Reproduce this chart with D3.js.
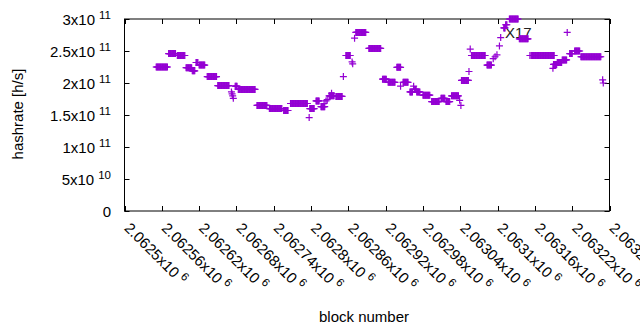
<!DOCTYPE html>
<html>
<head>
<meta charset="utf-8">
<script src="https://cdn.jsdelivr.net/npm/d3@7"></script>
<style>
  body { margin: 0; background: #fff; }
  text { font-family: "Liberation Sans", Arial, sans-serif; fill: #000; }
</style>
</head>
<body>
<div id="chart"></div>
<script>
/**
 * CONSTANTS AND GLOBALS
 * */
const width = 640,
  height = 330,
  margin = { top: 19, bottom: 119, left: 124.5, right: 30.5 };

// runs of blocks that share the same hashrate estimate (start block, end block, value)
const runStart = [
  2062551, 2062571, 2062585, 2062599, 2062609, 2062615, 2062620, 2062633, 2062650,
  2062672, 2062673, 2062674, 2062675, 2062678, 2062683, 2062713, 2062733, 2062756,
  2062767, 2062797, 2062798, 2062808, 2062816, 2062821, 2062824, 2062826, 2062829,
  2062833, 2062840, 2062852, 2062856, 2062866, 2062867, 2062870, 2062872, 2062893,
  2062915, 2062924, 2062938, 2062944, 2062948, 2062959, 2062965, 2062966, 2062970,
  2062980, 2062994, 2063009, 2063017, 2063026, 2063039, 2063041, 2063042, 2063054,
  2063056, 2063058, 2063083, 2063093, 2063096, 2063099, 2063103, 2063105, 2063110,
  2063113, 2063119, 2063135, 2063152, 2063154, 2063189, 2063190, 2063196, 2063204,
  2063212, 2063216, 2063224, 2063234, 2063269, 2063270
];
const runEnd = [
  2062569, 2062582, 2062597, 2062608, 2062613, 2062618, 2062629, 2062648, 2062668,
  2062672, 2062673, 2062674, 2062675, 2062681, 2062710, 2062729, 2062753, 2062763,
  2062794, 2062797, 2062805, 2062813, 2062822, 2062821, 2062824, 2062826, 2062837,
  2062833, 2062850, 2062852, 2062863, 2062866, 2062867, 2062870, 2062888, 2062912,
  2062921, 2062935, 2062944, 2062944, 2062956, 2062963, 2062965, 2062969, 2062975,
  2062991, 2063006, 2063015, 2063023, 2063037, 2063039, 2063041, 2063053, 2063054,
  2063056, 2063080, 2063090, 2063093, 2063096, 2063099, 2063103, 2063105, 2063112,
  2063115, 2063133, 2063149, 2063152, 2063191, 2063189, 2063195, 2063203, 2063211,
  2063212, 2063220, 2063232, 2063266, 2063269, 2063270
];
const runHashrate = [
  2.25e11, 2.46e11, 2.43e11, 2.24e11, 2.19e11, 2.32e11, 2.28e11, 2.10e11, 1.96e11,
  1.86e11, 1.83e11, 1.80e11, 1.76e11, 1.95e11, 1.90e11, 1.65e11, 1.60e11, 1.57e11,
  1.68e11, 1.46e11, 1.60e11, 1.72e11, 1.63e11, 1.68e11, 1.72e11, 1.74e11, 1.80e11,
  1.84e11, 1.79e11, 2.10e11, 2.43e11, 2.33e11, 2.30e11, 2.70e11, 2.79e11, 2.54e11,
  2.06e11, 2.01e11, 2.245e11, 1.95e11, 2.01e11, 1.86e11, 1.95e11, 1.90e11, 1.86e11,
  1.81e11, 1.71e11, 1.76e11, 1.71e11, 1.80e11, 1.73e11, 1.65e11, 2.04e11, 2.18e11,
  2.53e11, 2.43e11, 2.28e11, 2.38e11, 2.41e11, 2.44e11, 2.58e11, 2.71e11, 2.86e11,
  2.91e11, 3.00e11, 2.69e11, 2.43e11, 2.43e11, 2.23e11, 2.29e11, 2.32e11, 2.36e11,
  2.79e11, 2.46e11, 2.50e11, 2.41e11, 2.05e11, 2.00e11
];

// axis ticks
const xTicks = d3.range(0, 14).map(k => 2062500 + k * 60);
const xTickMantissa = [
  "2.0625", "2.06256", "2.06262", "2.06268", "2.06274", "2.0628", "2.06286",
  "2.06292", "2.06298", "2.06304", "2.0631", "2.06316", "2.06322", "2.06328"
];
const yTicks = [0, 5e10, 1e11, 1.5e11, 2e11, 2.5e11, 3e11];
const yTickMantissa = ["0", "5x10", "1x10", "1.5x10", "2x10", "2.5x10", "3x10"];
const yTickExponent = ["", "10", "11", "11", "11", "11", "11"];

const color = "#9400d3";

// one point per block inside each run
let points = [];
runStart.forEach((s, i) => {
  d3.range(s, runEnd[i] + 1).forEach(b => points.push({ block: b, rate: runHashrate[i] }));
});

const svg = d3.select("#chart")
  .append("svg")
  .attr("width", width)
  .attr("height", height);

const x = d3.scaleLinear()
  .domain([2062500, 2063280])
  .range([margin.left, width - margin.right]);

const y = d3.scaleLinear()
  .domain([0, 3e11])
  .range([height - margin.bottom, margin.top]);

const x0 = margin.left, x1 = width - margin.right,
  y0 = height - margin.bottom, y1 = margin.top;

// ticks on all four sides, pointing inward
const tickLen = 5;
const ticks = svg.append("g").attr("stroke", "#000").attr("stroke-width", 1);
yTicks.forEach(v => {
  const py = Math.round(y(v)) + 0.5;
  ticks.append("line").attr("x1", x0).attr("x2", x0 + tickLen).attr("y1", py).attr("y2", py);
  ticks.append("line").attr("x1", x1).attr("x2", x1 - tickLen).attr("y1", py).attr("y2", py);
});
xTicks.forEach(v => {
  const px = Math.round(x(v)) + 0.5;
  ticks.append("line").attr("x1", px).attr("x2", px).attr("y1", y0).attr("y2", y0 - tickLen);
  ticks.append("line").attr("x1", px).attr("x2", px).attr("y1", y1).attr("y2", y1 + tickLen);
});

svg.append("rect")
  .attr("x", x0).attr("y", y1)
  .attr("width", x1 - x0).attr("height", y0 - y1)
  .attr("fill", "none")
  .attr("stroke", "#000")
  .attr("stroke-width", 1);

// y tick labels
yTicks.forEach((v, i) => {
  const t = svg.append("text")
    .attr("x", 111)
    .attr("y", y(v) + 5.5)
    .attr("text-anchor", "end")
    .style("font-size", "15px")
    .text(yTickMantissa[i]);
  if (yTickExponent[i]) {
    t.append("tspan")
      .attr("dx", 4).attr("dy", -6)
      .style("font-size", "11.5px")
      .text(yTickExponent[i]);
  }
});

// x tick labels, rotated
xTicks.forEach((v, i) => {
  const t = svg.append("text")
    .attr("transform", `translate(${x(v) - 1},${229}) rotate(45)`)
    .style("font-size", "15px")
    .text(xTickMantissa[i] + "x10");
  t.append("tspan")
    .attr("dx", 4).attr("dy", -6)
    .style("font-size", "11.5px")
    .text("6");
});

svg.append("text")
  .attr("x", 364).attr("y", 322)
  .attr("text-anchor", "middle")
  .style("font-size", "15px")
  .text("block number");

svg.append("text")
  .attr("transform", "translate(23,114) rotate(-90)")
  .attr("text-anchor", "middle")
  .style("font-size", "15px")
  .text("hashrate [h/s]");

svg.append("text")
  .attr("x", 505).attr("y", 38)
  .style("font-size", "15px")
  .style("fill", "#222")
  .text("X17");

// plus markers
svg.append("g")
  .selectAll("path.pt")
  .data(points)
  .join("path")
  .attr("class", "pt")
  .attr("transform", d => `translate(${x(d.block)},${y(d.rate)})`)
  .attr("d", "M-3.5,0H3.5M0,-3.5V3.5")
  .attr("fill", "none")
  .attr("stroke", color)
  .attr("stroke-width", 1.2);
</script>
</body>
</html>
